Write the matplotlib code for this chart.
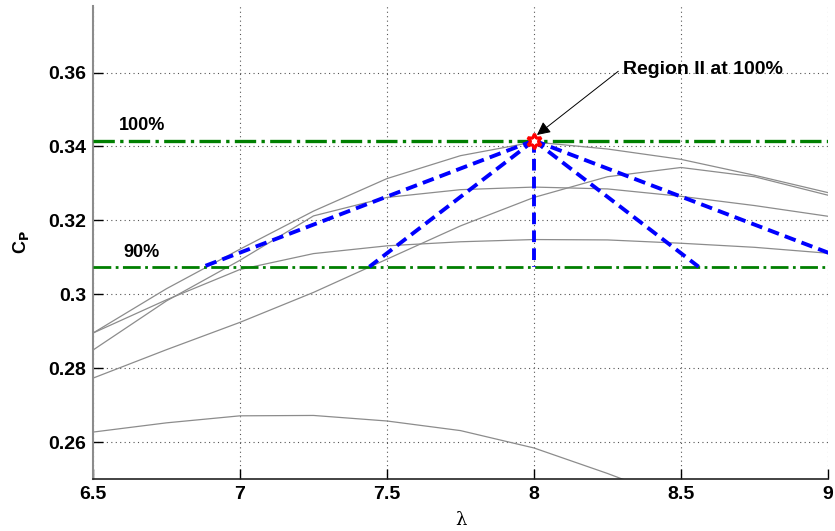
import matplotlib
matplotlib.use("Agg")
import matplotlib.pyplot as plt
import numpy as np

plt.rcParams['font.family'] = ['Liberation Sans', 'DejaVu Sans']

# Tip speed ratio samples for the Cp curves
lam = [6.5, 6.75, 7.0, 7.25, 7.5, 7.75, 8.0, 8.25, 8.5, 8.75, 9.0]

# Power coefficient curves (one per blade pitch setting)
cp_a = [0.2895, 0.3015, 0.3122, 0.3225, 0.3313, 0.3375, 0.3412, 0.3393, 0.3365, 0.3322, 0.3275]
cp_b = [0.2849, 0.2982, 0.3092, 0.3212, 0.3262, 0.3283, 0.3290, 0.3285, 0.3265, 0.3240, 0.3211]
cp_c = [0.2895, 0.2985, 0.3067, 0.3110, 0.3131, 0.3142, 0.3148, 0.3147, 0.3138, 0.3127, 0.3111]
cp_d = [0.2773, 0.2850, 0.2924, 0.3005, 0.3095, 0.3185, 0.3262, 0.3318, 0.3343, 0.3318, 0.3268]
cp_e = [0.2627, 0.2652, 0.2671, 0.2672, 0.2657, 0.2631, 0.2584, 0.2515, 0.2440, 0.2360, 0.2270]
curves = [cp_a, cp_b, cp_c, cp_d, cp_e]

# Operating point (Region II at 100%) and the 90% band
lam_opt = 8.0
cp_max = 0.3416
cp_90 = 0.9 * cp_max
lam_90 = [6.874, 7.44, 8.0, 8.56, 9.126]

fig = plt.figure(figsize=(8.35, 5.31), dpi=100)
ax = fig.add_axes([0.1114, 0.0979, 0.8802, 0.8908])

for cp in curves:
    ax.plot(lam, cp, color='#8c8c8c', lw=0.9, zorder=2)

ax.axhline(cp_max, color='#007f00', ls='-.', lw=2.4, zorder=3)
ax.axhline(cp_90, color='#007f00', ls='-.', lw=2.0, zorder=3)

for lx in lam_90:
    ax.plot([lam_opt, lx], [cp_max, cp_90], color='#0000ff', ls=(0, (3, 1.6)),
            lw=2.8, zorder=4, clip_on=True)

ax.plot([lam_opt], [cp_max], marker=(6, 1, 0), ms=11, mfc='white', mec='red',
        mew=2.2, ls='none', zorder=6)

ax.text(6.588, 0.3457, '100%', fontsize=13, fontweight='bold', va='center', ha='left')
ax.text(6.602, 0.3114, '90%', fontsize=13, fontweight='bold', va='center', ha='left')

ax.annotate('Region II at 100%', xy=(lam_opt + 0.01, cp_max + 0.0015),
            xytext=(8.303, 0.3608), fontsize=14, fontweight='bold',
            va='center', ha='left',
            arrowprops=dict(arrowstyle='-|>', color='black', lw=0.7,
                            mutation_scale=20, shrinkA=0, shrinkB=0,
                            relpos=(-0.03, 0.4)),
            zorder=7)

ax.set_xlim(6.5, 9.0)
ax.set_ylim(0.25, 0.378)
ax.set_xticks([6.5, 7, 7.5, 8, 8.5, 9])
ax.set_xticklabels(['6.5', '7', '7.5', '8', '8.5', '9'])
ax.set_yticks([0.26, 0.28, 0.30, 0.32, 0.34, 0.36])
ax.set_yticklabels(['0.26', '0.28', '0.3', '0.32', '0.34', '0.36'])

ax.grid(True, ls=(0, (1, 3)), color='#555555', lw=0.8)
ax.set_axisbelow(True)
ax.tick_params(direction='in', length=7, width=1.0, labelsize=14, pad=5)
for lab in ax.get_xticklabels() + ax.get_yticklabels():
    lab.set_fontweight('bold')

ax.spines['top'].set_visible(False)
ax.spines['right'].set_visible(False)
ax.spines['left'].set_color('#8c8c8c')
ax.spines['left'].set_linewidth(1.5)
ax.spines['bottom'].set_color('#222222')
ax.spines['bottom'].set_linewidth(1.2)

ax.set_ylabel(r'C$_\mathbf{P}$', fontsize=13, fontweight='bold', labelpad=12)
ax.set_xlabel('λ', fontsize=13, family=['DejaVu Serif'], labelpad=6)

fig.savefig('out.png', dpi=100)
